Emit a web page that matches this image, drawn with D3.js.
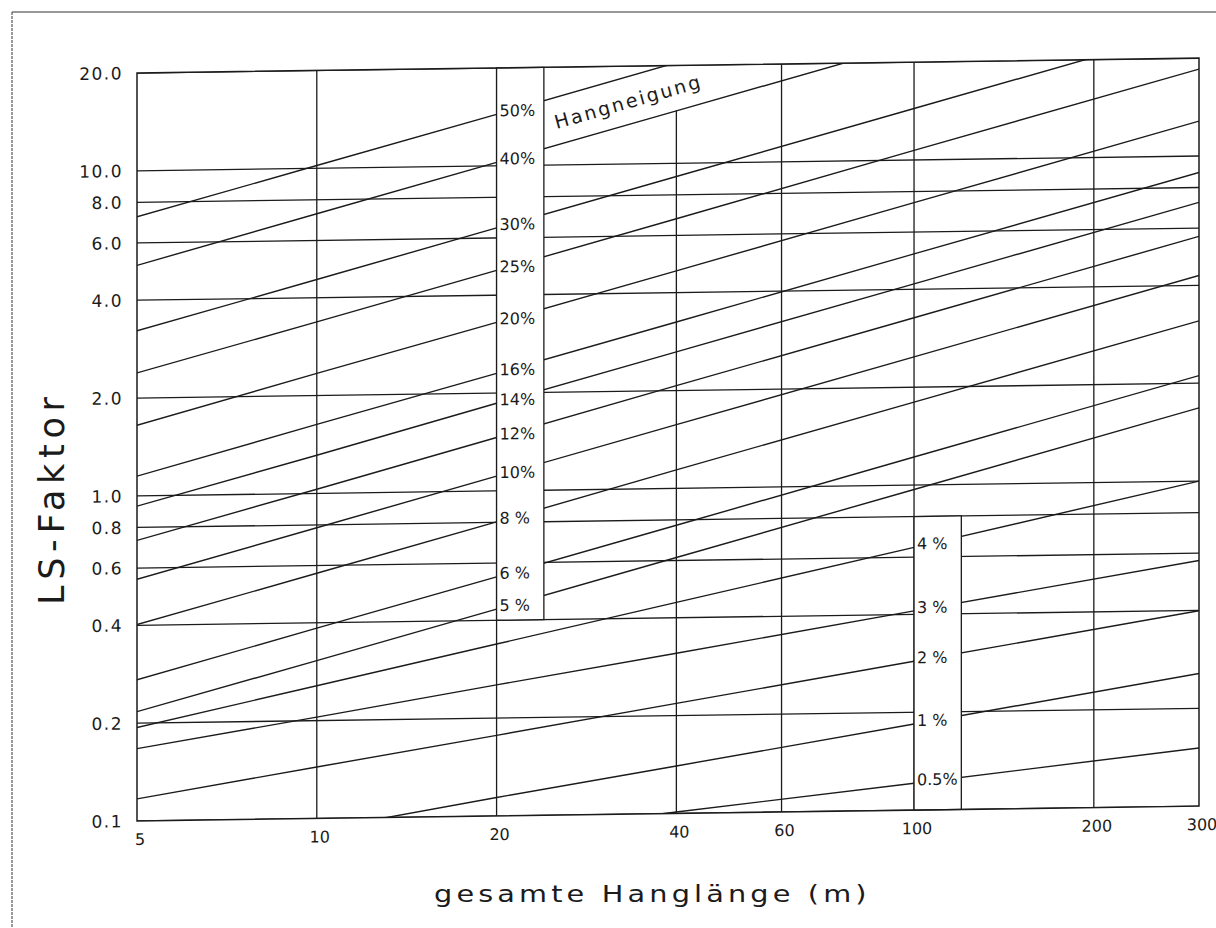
<!DOCTYPE html>
<html>
<head>
<meta charset="utf-8">
<script src="https://cdn.jsdelivr.net/npm/d3@7"></script>
<style>
  body { margin: 0; background: #fff; }
  text { font-family: "DejaVu Sans", sans-serif; fill: #1b1b1b; }
</style>
</head>
<body>
<script>
// Hanglänge (m) at which the LS values were read
const lengths = [5, 10, 20, 40, 100, 300];

// LS-Faktor read per Hangneigung (off-chart values are estimated, they get clipped)
const s50 = [7.22, 10.2, 14.4, 20.4, 32.3, 55.9];
const s40 = [5.12, 7.25, 10.25, 14.5, 22.9, 39.7];
const s30 = [3.22, 4.55, 6.44, 9.11, 14.4, 24.9];
const s25 = [2.39, 3.37, 4.77, 6.75, 10.7, 18.5];
const s20 = [1.65, 2.34, 3.30, 4.67, 7.39, 12.8];
const s16 = [1.15, 1.63, 2.30, 3.25, 5.14, 8.90];
const s14 = [0.93, 1.31, 1.86, 2.63, 4.16, 7.20];
const s12 = [0.73, 1.03, 1.46, 2.07, 3.27, 5.66];
const s10 = [0.554, 0.784, 1.11, 1.57, 2.48, 4.29];
const s8  = [0.402, 0.568, 0.803, 1.14, 1.80, 3.11];
const s6  = [0.272, 0.385, 0.544, 0.770, 1.22, 2.11];
const s5  = [0.217, 0.306, 0.433, 0.613, 0.969, 1.68];
const s4  = [0.194, 0.256, 0.338, 0.446, 0.643, 1.00];
const s3  = [0.167, 0.205, 0.253, 0.311, 0.410, 0.570];
const s2  = [0.117, 0.144, 0.177, 0.218, 0.287, 0.399];
const s1  = [0.075, 0.092, 0.114, 0.140, 0.184, 0.256];
const s05 = [0.066, 0.076, 0.088, 0.101, 0.121, 0.151];

const slopeNames  = ["50%", "40%", "30%", "25%", "20%", "16%", "14%", "12%", "10%", "8 %", "6 %", "5 %",
                     "4 %", "3 %", "2 %", "1 %", "0.5%"];
const slopeValues = [s50, s40, s30, s25, s20, s16, s14, s12, s10, s8, s6, s5, s4, s3, s2, s1, s05];

const xTicks = [5, 10, 20, 40, 60, 100, 200, 300];
const xTickLabels = ["5", "10", "20", "40", "60", "100", "200", "300"];
const yTicks = [0.1, 0.2, 0.4, 0.6, 0.8, 1, 2, 4, 6, 8, 10, 20];
const yTickLabels = ["0.1", "0.2", "0.4", "0.6", "0.8", "1.0", "2.0", "4.0", "6.0", "8.0", "10.0", "20.0"];

// layout
const W = 1216, H = 928;
const pLeft = 137, pRight = 1199, pTop = 73, pBottom = 821;
const skew = -0.014;   // the scan leans a little
const ink = "#1b1b1b";

const svg = d3.select("body").append("svg")
    .attr("width", W).attr("height", H)
    .style("background-color", "#fff");

// page edge of the scan
svg.append("line").attr("x1", 12).attr("y1", 12).attr("x2", W).attr("y2", 12)
    .attr("stroke", "#333").attr("stroke-width", 1.2);
svg.append("line").attr("x1", 12).attr("y1", 12).attr("x2", 12).attr("y2", H)
    .attr("stroke", "#555").attr("stroke-width", 1.2).attr("stroke-dasharray", "3,1");

const x = d3.scaleLog().domain([5, 300]).range([pLeft, pRight]);
const y = d3.scaleLog().domain([0.1, 20]).range([pBottom, pTop]);

const g = svg.append("g")
    .attr("transform", `matrix(1,${skew},0,1,0,${-skew * pLeft})`);

g.append("clipPath").attr("id", "plot")
  .append("rect")
    .attr("x", pLeft).attr("y", pTop)
    .attr("width", pRight - pLeft).attr("height", pBottom - pTop);

const inner = g.append("g").attr("clip-path", "url(#plot)");

// horizontal grid
inner.selectAll(".hgrid")
  .data(yTicks)
  .enter()
  .append("line")
    .attr("x1", pLeft).attr("x2", pRight)
    .attr("y1", d => y(d)).attr("y2", d => y(d))
    .attr("stroke", ink).attr("stroke-width", 1.3);

// vertical grid (40 stops under the "Hangneigung" text)
const vgrid = [[10, 20], [20, 20], [40, 14.5], [60, 20], [100, 20], [200, 20]];
inner.selectAll(".vgrid")
  .data(vgrid)
  .enter()
  .append("line")
    .attr("x1", d => x(d[0])).attr("x2", d => x(d[0]))
    .attr("y1", pBottom).attr("y2", d => y(d[1]))
    .attr("stroke", ink).attr("stroke-width", 1.3);

// slope lines
const line = d3.line()
    .x((d, i) => x(lengths[i]))
    .y(d => y(d));

inner.selectAll(".slope")
  .data(slopeValues)
  .enter()
  .append("path")
    .attr("d", line)
    .attr("fill", "none")
    .attr("stroke", ink)
    .attr("stroke-width", 1.4);

// label bands
const bands = [
  { x0: 20, x1: 24, y0: 0.4, y1: 20 },
  { x0: 100, x1: 120, y0: 0.1, y1: 0.8 }
];
g.selectAll(".band")
  .data(bands)
  .enter()
  .append("rect")
    .attr("x", d => x(d.x0)).attr("y", d => y(d.y1))
    .attr("width", d => x(d.x1) - x(d.x0))
    .attr("height", d => y(d.y0) - y(d.y1))
    .attr("fill", "#fff")
    .attr("stroke", ink).attr("stroke-width", 1.3);

// frame
g.append("rect")
    .attr("x", pLeft).attr("y", pTop)
    .attr("width", pRight - pLeft).attr("height", pBottom - pTop)
    .attr("fill", "none")
    .attr("stroke", ink).attr("stroke-width", 1.5);

// slope labels: upper band at L=20, lower band at L=100
g.selectAll(".slabel")
  .data(slopeNames)
  .enter()
  .append("text")
    .attr("x", (d, i) => x(i < 12 ? 20 : 100) + 3)
    .attr("y", (d, i) => y(slopeValues[i][i < 12 ? 2 : 4]) + 2)
    .attr("font-size", 16)
    .text(d => d);

// "Hangneigung" along the 40/50 % lines
const hx = x(25.2), hy = y(12.9);
g.append("text")
    .attr("transform", `translate(${hx},${hy}) rotate(-15.2)`)
    .attr("font-size", 19)
    .attr("textLength", 150)
    .attr("lengthAdjust", "spacing")
    .text("Hangneigung");

// y tick labels
g.selectAll(".ylab")
  .data(yTicks)
  .enter()
  .append("text")
    .attr("x", pLeft - 14)
    .attr("y", d => y(d))
    .attr("dy", "0.36em")
    .attr("text-anchor", "end")
    .attr("font-size", 17)
    .attr("letter-spacing", 1.5)
    .text((d, i) => yTickLabels[i]);

// x tick labels
g.selectAll(".xlab")
  .data(xTicks)
  .enter()
  .append("text")
    .attr("x", d => x(d) + 3)
    .attr("y", pBottom + 24)
    .attr("text-anchor", "middle")
    .attr("font-size", 16)
    .text((d, i) => xTickLabels[i]);

// axis titles (the plotter lettering is wide, so stretch a bit)
svg.append("text")
    .attr("transform", "translate(434,902) scale(1.25,1)")
    .attr("font-size", 23)
    .attr("textLength", 346)
    .attr("lengthAdjust", "spacing")
    .text("gesamte Hanglänge (m)");

svg.append("text")
    .attr("transform", "translate(64,605) rotate(-90)")
    .attr("font-size", 35)
    .attr("textLength", 208)
    .attr("lengthAdjust", "spacing")
    .text("LS-Faktor");
</script>
</body>
</html>
